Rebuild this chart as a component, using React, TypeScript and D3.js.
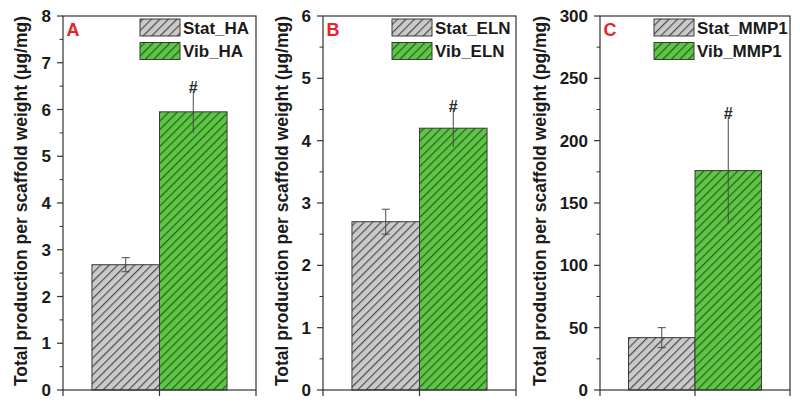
import React from 'react';
import * as d3 from 'd3';

const panelLetters = ['A', 'B', 'C'];
const statNames = ['Stat_HA', 'Stat_ELN', 'Stat_MMP1'];
const vibNames = ['Vib_HA', 'Vib_ELN', 'Vib_MMP1'];
const statMeans = [2.68, 2.7, 42];
const statErrs = [0.15, 0.2, 8];
const vibMeans = [5.95, 4.2, 176];
const vibErrs = [0.45, 0.3, 43];
const yMaxes = [8, 6, 300];
const yMajorSteps = [1, 1, 50];
const yTitles = [
  'Total production per scaffold weight (μg/mg)',
  'Total production per scaffold weight (μg/mg)',
  'Total production per scaffold weight (pg/mg)',
];
const sigMark = '#';

// layout
const frameLefts = [63, 323, 600];
const frameWidths = [193, 193, 190];
const titleX = [27, 288, 546];
const legendOffsets = [116, 124, 136];
const TOP = 16;
const BOTTOM = 390;
const FONT = '"Liberation Sans", Arial, Helvetica, sans-serif';

function Panel({ i }: { i: number }) {
  const left = frameLefts[i];
  const w = frameWidths[i];
  const right = left + w;
  const y = d3.scaleLinear().domain([0, yMaxes[i]]).range([BOTTOM, TOP]);
  const x = d3.scaleBand<string>().domain(['stat', 'vib']).range([left + 0.15 * w, right - 0.15 * w]).padding(0);
  const majors = d3.range(0, yMaxes[i] + 1e-9, yMajorSteps[i]);
  const minors = d3.range(yMajorSteps[i] / 2, yMaxes[i], yMajorSteps[i]);
  const bars = [
    { key: 'stat', mean: statMeans[i], err: statErrs[i], fill: 'url(#hatchGray)', cap: true },
    { key: 'vib', mean: vibMeans[i], err: vibErrs[i], fill: 'url(#hatchGreen)', cap: false },
  ];
  const bw = x.bandwidth();
  const center = left + w / 2;
  const legX = right - legendOffsets[i];
  return (
    <g>
      {bars.map((b) => {
        const bx = x(b.key)!;
        const cx = bx + bw / 2;
        return (
          <g key={b.key}>
            <rect x={bx} y={y(b.mean)} width={bw} height={BOTTOM - y(b.mean)} fill={b.fill} stroke="#3a3a3a" strokeWidth={1} />
            <line x1={cx} x2={cx} y1={y(b.mean + b.err)} y2={y(b.mean - b.err)} stroke="#4a4a4a" strokeWidth={1} />
            {b.cap && (
              <>
                <line x1={cx - 4} x2={cx + 4} y1={y(b.mean + b.err)} y2={y(b.mean + b.err)} stroke="#4a4a4a" strokeWidth={1} />
                <line x1={cx - 4} x2={cx + 4} y1={y(b.mean - b.err)} y2={y(b.mean - b.err)} stroke="#4a4a4a" strokeWidth={1} />
              </>
            )}
            {!b.cap && (
              <text x={cx} y={y(b.mean + b.err) + 2} textAnchor="middle" fontFamily={FONT} fontWeight="bold" fontSize={16} fill="#2a2a2a">
                {sigMark}
              </text>
            )}
          </g>
        );
      })}
      <rect x={left} y={TOP} width={w} height={BOTTOM - TOP} fill="none" stroke="#333" strokeWidth={1.2} />
      {majors.map((v) => (
        <g key={'M' + v}>
          <line x1={left - 6} x2={left} y1={y(v)} y2={y(v)} stroke="#333" strokeWidth={1.2} />
          <text x={left - 12} y={y(v)} dy="0.36em" textAnchor="end" fontFamily={FONT} fontWeight="bold" fontSize={17} fill="#1a1a1a">
            {v}
          </text>
        </g>
      ))}
      {minors.map((v) => (
        <line key={'m' + v} x1={left - 3.5} x2={left} y1={y(v)} y2={y(v)} stroke="#333" strokeWidth={1} />
      ))}
      <line x1={center} x2={center} y1={BOTTOM} y2={BOTTOM + 6} stroke="#333" strokeWidth={1.2} />
      <line x1={right} x2={right} y1={BOTTOM} y2={BOTTOM + 6} stroke="#333" strokeWidth={1.2} />
      <line x1={left} x2={left} y1={BOTTOM} y2={BOTTOM + 6} stroke="#333" strokeWidth={1.2} />
      <text
        transform={`translate(${titleX[i]},${(TOP + BOTTOM) / 2 - 2}) rotate(-90)`}
        textAnchor="middle"
        fontFamily={FONT}
        fontWeight="bold"
        fontSize={17.5}
        fill="#1a1a1a"
      >
        {yTitles[i]}
      </text>
      <text x={left + 3.5} y={36} fontFamily={FONT} fontWeight="bold" fontSize={18} fill="#e8222a">
        {panelLetters[i]}
      </text>
      <rect x={legX} y={19} width={40} height={17} fill="url(#hatchGray)" stroke="#3a3a3a" strokeWidth={1} />
      <rect x={legX} y={42.5} width={40} height={17} fill="url(#hatchGreen)" stroke="#3a3a3a" strokeWidth={1} />
      <text x={legX + 43} y={27.5} dy="0.36em" fontFamily={FONT} fontWeight="bold" fontSize={17} fill="#1a1a1a">
        {statNames[i]}
      </text>
      <text x={legX + 43} y={51} dy="0.36em" fontFamily={FONT} fontWeight="bold" fontSize={17} fill="#1a1a1a">
        {vibNames[i]}
      </text>
    </g>
  );
}

export default function App() {
  return (
    <svg width={800} height={404} style={{ position: 'absolute', left: 0, top: 0, background: '#fff' }}>
      <defs>
        <pattern id="hatchGray" patternUnits="userSpaceOnUse" width={6} height={6} patternTransform="rotate(45)">
          <rect width={6} height={6} fill="#cacaca" />
          <line x1={0.6} y1={0} x2={0.6} y2={6} stroke="#4e4e4e" strokeWidth={1.2} />
        </pattern>
        <pattern id="hatchGreen" patternUnits="userSpaceOnUse" width={6} height={6} patternTransform="rotate(45)">
          <rect width={6} height={6} fill="#5ec545" />
          <line x1={0.6} y1={0} x2={0.6} y2={6} stroke="#23611c" strokeWidth={1.2} />
        </pattern>
      </defs>
      <rect width={800} height={404} fill="#fff" />
      {panelLetters.map((_, i) => (
        <Panel key={i} i={i} />
      ))}
    </svg>
  );
}
